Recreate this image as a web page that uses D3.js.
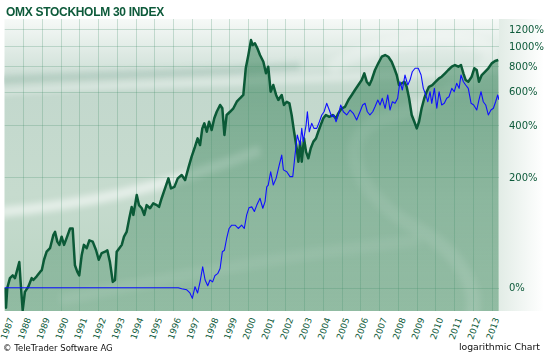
<!DOCTYPE html>
<html>
<head>
<meta charset="utf-8">
<script src="https://cdn.jsdelivr.net/npm/d3@7"></script>
<style>
  body { margin: 0; background: #fff; }
  svg { display: block; }
</style>
</head>
<body>
<div id="chart"></div>
<script>
// OMX Stockholm 30, change since start in percent (log scale of 1 + p/100)
var omxYears = [1987.03, 1987.08, 1987.15, 1987.29, 1987.44, 1987.56, 1987.65, 1987.79, 1987.86, 1987.97,
  1988.09, 1988.27, 1988.45, 1988.54, 1988.72, 1988.90, 1988.99, 1989.11, 1989.25, 1989.43,
  1989.61, 1989.70, 1989.82, 1989.93, 1990.05, 1990.18, 1990.32, 1990.50, 1990.64, 1990.76,
  1990.89, 1990.99, 1991.12, 1991.24, 1991.39, 1991.53, 1991.71, 1991.89, 1992.03, 1992.19,
  1992.37, 1992.49, 1992.63, 1992.78, 1992.90, 1992.99, 1993.13, 1993.26, 1993.38, 1993.52,
  1993.66, 1993.79, 1993.88, 1994.06, 1994.18, 1994.33, 1994.46, 1994.59, 1994.77, 1994.94,
  1995.13, 1995.25, 1995.39, 1995.57, 1995.75, 1995.89, 1996.07, 1996.25, 1996.46, 1996.64,
  1996.81, 1996.99, 1997.17, 1997.31, 1997.44, 1997.56, 1997.67, 1997.80, 1997.92, 1998.06,
  1998.20, 1998.33, 1998.51, 1998.63, 1998.74, 1998.86, 1999.04, 1999.22, 1999.40, 1999.57,
  1999.75, 1999.88, 2000.02, 2000.16, 2000.25, 2000.37, 2000.50, 2000.64, 2000.82, 2000.96,
  2001.08, 2001.21, 2001.35, 2001.50, 2001.62, 2001.80, 2001.92, 2002.07, 2002.21, 2002.33,
  2002.46, 2002.60, 2002.69, 2002.78, 2002.87, 2002.99, 2003.10, 2003.22, 2003.35, 2003.49,
  2003.63, 2003.75, 2003.88, 2004.02, 2004.16, 2004.34, 2004.52, 2004.70, 2004.82, 2005.00,
  2005.18, 2005.36, 2005.54, 2005.71, 2005.89, 2006.07, 2006.21, 2006.34, 2006.48, 2006.60,
  2006.78, 2006.96, 2007.14, 2007.32, 2007.49, 2007.67, 2007.81, 2007.94, 2008.06, 2008.21,
  2008.35, 2008.47, 2008.60, 2008.74, 2008.88, 2009.01, 2009.13, 2009.27, 2009.41, 2009.54,
  2009.66, 2009.84, 2010.02, 2010.20, 2010.34, 2010.52, 2010.69, 2010.88, 2011.05, 2011.23,
  2011.37, 2011.50, 2011.62, 2011.76, 2011.94, 2012.08, 2012.21, 2012.33, 2012.48, 2012.65,
  2012.83, 2013.01, 2013.19, 2013.36];
var omxPct = [0, -18, 0, 10, 13, 10, 17, 29, 6, -20,
  -4, 1, 10, 8, 12, 17, 19, 32, 43, 48,
  69, 74, 58, 53, 66, 53, 64, 80, 80, 25,
  17, 13, 38, 53, 48, 60, 58, 45, 32, 41,
  43, 45, 29, 6, 8, 43, 48, 53, 66, 74,
  99, 123, 106, 151, 127, 120, 106, 127, 120, 131,
  127, 123, 143, 168, 196, 168, 172, 196, 206, 191,
  227, 267, 305, 340, 312, 386, 411, 370, 419, 378,
  437, 473, 513, 493, 355, 455, 473, 493, 533, 555,
  577, 782, 906, 1067, 1011, 1030, 975, 906, 841, 739,
  796, 599, 647, 577, 544, 577, 513, 533, 523, 455,
  370, 299, 249, 326, 249, 340, 285, 261, 299, 326,
  340, 370, 402, 437, 455, 445, 455, 437, 464, 493,
  502, 544, 577, 611, 647, 685, 739, 672, 647, 685,
  767, 829, 889, 906, 889, 841, 782, 725, 647, 660,
  672, 634, 555, 455, 419, 386, 419, 493, 555, 599,
  634, 647, 672, 698, 711, 739, 767, 796, 811, 796,
  811, 739, 685, 672, 711, 782, 767, 672, 725, 752,
  782, 826, 848, 858];

// comparison series, flat until it starts in 1996
var cmpYears = [1987.00, 1996.28, 1996.46, 1996.73, 1996.90, 1997.03, 1997.17, 1997.31, 1997.44, 1997.58,
  1997.71, 1997.85, 1997.97, 1998.11, 1998.24, 1998.38, 1998.51, 1998.63, 1998.74, 1998.86,
  1998.99, 1999.13, 1999.31, 1999.48, 1999.66, 1999.80, 1999.93, 2000.05, 2000.20, 2000.34,
  2000.47, 2000.64, 2000.79, 2000.91, 2001.00, 2001.08, 2001.21, 2001.35, 2001.50, 2001.67,
  2001.80, 2001.89, 2002.07, 2002.24, 2002.39, 2002.51, 2002.63, 2002.78, 2002.87, 2002.95,
  2003.10, 2003.17, 2003.27, 2003.40, 2003.52, 2003.67, 2003.81, 2003.94, 2004.06, 2004.20,
  2004.34, 2004.47, 2004.59, 2004.70, 2004.82, 2004.95, 2005.09, 2005.27, 2005.45, 2005.62,
  2005.80, 2005.98, 2006.12, 2006.25, 2006.37, 2006.51, 2006.66, 2006.78, 2006.93, 2007.05,
  2007.17, 2007.32, 2007.46, 2007.58, 2007.71, 2007.85, 2007.99, 2008.11, 2008.24, 2008.38,
  2008.53, 2008.65, 2008.77, 2008.92, 2009.09, 2009.24, 2009.36, 2009.49, 2009.60, 2009.72,
  2009.81, 2009.95, 2010.08, 2010.20, 2010.34, 2010.48, 2010.61, 2010.73, 2010.88, 2011.01,
  2011.14, 2011.27, 2011.37, 2011.50, 2011.62, 2011.76, 2011.91, 2012.05, 2012.21, 2012.33,
  2012.44, 2012.56, 2012.69, 2012.83, 2012.97, 2013.10, 2013.22, 2013.33, 2013.40];
var cmpPct = [0, 0, -1, -2, -5, -10, 1, -5, 6, 23,
  8, 2, 8, 6, 13, 15, 21, 43, 45, 63,
  80, 86, 86, 80, 86, 80, 106, 121, 123, 113,
  127, 143, 120, 135, 172, 177, 216, 177, 196, 238,
  273, 222, 216, 201, 201, 273, 355, 312, 386, 326,
  402, 473, 370, 411, 386, 386, 419, 455, 473, 523,
  483, 445, 455, 419, 455, 513, 473, 455, 483, 464,
  428, 473, 513, 523, 473, 455, 473, 502, 544, 513,
  555, 493, 577, 483, 533, 523, 555, 672, 611, 725,
  647, 685, 752, 782, 782, 725, 623, 577, 533, 599,
  523, 623, 493, 599, 513, 523, 555, 565, 623, 599,
  660, 623, 725, 672, 647, 623, 523, 513, 483, 544,
  599, 533, 513, 455, 483, 493, 533, 577, 544];

var yearTicks = d3.range(1987, 2014);
var pctTicks = [0, 200, 400, 600, 800, 1000, 1200];

var titleText = "OMX STOCKHOLM 30 INDEX";
var footLeft = "\u00A9 TeleTrader Software AG";
var footRight = "logarithmic Chart";

var W = 544, H = 353;
var plot = { left: 4.5, right: 499, top: 19, bottom: 311 };
var textGreen = "#0d5a3a";

var svg = d3.select("#chart").append("svg")
    .attr("width", W)
    .attr("height", H);

var defs = svg.append("defs");

var bgGrad = defs.append("linearGradient").attr("id", "bgGrad")
    .attr("x1", 0).attr("y1", 0).attr("x2", 0).attr("y2", 1);
bgGrad.append("stop").attr("offset", 0).attr("stop-color", "#f6f9f7");
bgGrad.append("stop").attr("offset", 0.12).attr("stop-color", "#dde9e3");
bgGrad.append("stop").attr("offset", 0.25).attr("stop-color", "#c3d8cd");
bgGrad.append("stop").attr("offset", 0.6).attr("stop-color", "#c6dbce");
bgGrad.append("stop").attr("offset", 1).attr("stop-color", "#b8d4c2");

var areaGrad = defs.append("linearGradient").attr("id", "areaGrad")
    .attr("gradientUnits", "userSpaceOnUse")
    .attr("x1", 0).attr("y1", plot.top).attr("x2", 0).attr("y2", plot.bottom);
areaGrad.append("stop").attr("offset", 0).attr("stop-color", "#2f7d52").attr("stop-opacity", 0.55);
areaGrad.append("stop").attr("offset", 1).attr("stop-color", "#2f7d52").attr("stop-opacity", 0.28);

var sideGrad = defs.append("linearGradient").attr("id", "sideGrad")
    .attr("x1", 0).attr("y1", 0).attr("x2", 1).attr("y2", 0);
sideGrad.append("stop").attr("offset", 0).attr("stop-color", "#e2ece6");
sideGrad.append("stop").attr("offset", 1).attr("stop-color", "#ffffff");

defs.append("filter").attr("id", "soft")
    .append("feGaussianBlur").attr("stdDeviation", 3);

defs.append("clipPath").attr("id", "plotClip")
    .append("rect")
    .attr("x", plot.left).attr("y", plot.top)
    .attr("width", plot.right - plot.left).attr("height", plot.bottom - plot.top);

// scales
var x = d3.scaleLinear().domain([1987, 2013.4]).range([plot.left, plot.right]);
var y = d3.scaleLog().domain([0.794, 14.38]).range([plot.bottom, plot.top]);
function yp(p) { return y(1 + p / 100); }

// right side panel
svg.append("rect")
    .attr("x", plot.right).attr("y", plot.top)
    .attr("width", W - plot.right).attr("height", plot.bottom - plot.top)
    .attr("fill", "url(#sideGrad)");

// plot background
svg.append("rect")
    .attr("x", plot.left).attr("y", plot.top)
    .attr("width", plot.right - plot.left).attr("height", plot.bottom - plot.top)
    .attr("fill", "url(#bgGrad)");

var g = svg.append("g").attr("clip-path", "url(#plotClip)");

// watermark swooshes
var deco = g.append("g").attr("filter", "url(#soft)").attr("fill", "none");
deco.append("path")
    .attr("d", "M0,80 C100,74 200,74 300,66")
    .attr("stroke", "#7fa898").attr("stroke-width", 7).attr("opacity", 0.35);
deco.append("path")
    .attr("d", "M0,92 C120,84 300,82 500,70")
    .attr("stroke", "#ffffff").attr("stroke-width", 4).attr("opacity", 0.55);
deco.append("path")
    .attr("d", "M0,212 C80,205 160,190 260,150")
    .attr("stroke", "#ffffff").attr("stroke-width", 10).attr("opacity", 0.55);
deco.append("path")
    .attr("d", "M330,70 C360,40 470,30 490,50 C500,70 420,110 380,120 C330,140 360,200 420,230 C470,260 480,300 470,320")
    .attr("stroke", "#ffffff").attr("stroke-width", 14).attr("opacity", 0.25);
deco.append("path")
    .attr("d", "M60,300 C200,270 330,250 420,240")
    .attr("stroke", "#ffffff").attr("stroke-width", 12).attr("opacity", 0.18);

var omx = omxYears.map(function (d, i) { return { year: d, pct: omxPct[i] }; });
var cmp = cmpYears.map(function (d, i) { return { year: d, pct: cmpPct[i] }; });

// area under the index line
var area = d3.area()
    .x(function (d) { return x(d.year); })
    .y0(plot.bottom)
    .y1(function (d) { return yp(d.pct); });

g.append("path")
    .datum(omx)
    .attr("d", area)
    .attr("fill", "url(#areaGrad)");

// grid
g.selectAll(".vgrid")
    .data(yearTicks.slice(1))
    .enter().append("line")
    .attr("class", "vgrid")
    .attr("x1", function (d) { return Math.round(x(d)) + 0.5; })
    .attr("x2", function (d) { return Math.round(x(d)) + 0.5; })
    .attr("y1", plot.top).attr("y2", plot.bottom)
    .attr("stroke", "#3f8a66").attr("stroke-opacity", 0.25);

g.selectAll(".hgrid")
    .data(pctTicks)
    .enter().append("line")
    .attr("class", "hgrid")
    .attr("x1", plot.left).attr("x2", plot.right)
    .attr("y1", function (d) { return Math.round(yp(d)) + 0.5; })
    .attr("y2", function (d) { return Math.round(yp(d)) + 0.5; })
    .attr("stroke", "#3f8a66").attr("stroke-opacity", 0.25);

var line = d3.line()
    .x(function (d) { return x(d.year); })
    .y(function (d) { return yp(d.pct); });

g.append("path")
    .datum(omx)
    .attr("d", line)
    .attr("fill", "none")
    .attr("stroke", "#0b5a37")
    .attr("stroke-width", 2.5)
    .attr("stroke-linejoin", "round");

g.append("path")
    .datum(cmp)
    .attr("d", line)
    .attr("fill", "none")
    .attr("stroke", "#1010ff")
    .attr("stroke-width", 1.1)
    .attr("stroke-linejoin", "round");

// right axis labels
svg.selectAll(".ylab")
    .data(pctTicks)
    .enter().append("text")
    .attr("class", "ylab")
    .attr("x", 509)
    .attr("y", function (d) { return yp(d); })
    .attr("dy", "0.36em")
    .style("font-family", "'DejaVu Sans', sans-serif")
    .style("font-size", "10px")
    .attr("fill", textGreen)
    .text(function (d) { return d + "%"; });

// year labels, rotated
svg.selectAll(".xlab")
    .data(yearTicks)
    .enter().append("text")
    .attr("class", "xlab")
    .attr("transform", function (d) {
        return "translate(" + Math.max(x(d) + 8, 14) + ",319) rotate(-70)";
    })
    .attr("text-anchor", "end")
    .style("font-family", "'DejaVu Sans', sans-serif")
    .style("font-size", "8.8px")
    .attr("fill", textGreen)
    .text(function (d) { return d; });

// title and footer
svg.append("text")
    .attr("x", 6).attr("y", 16)
    .style("font-family", "'Liberation Sans', Arial, sans-serif")
    .style("font-size", "12px")
    .style("font-weight", "bold")
    .style("letter-spacing", "-0.3px")
    .attr("fill", textGreen)
    .text(titleText);

svg.append("text")
    .attr("x", 3).attr("y", 350.5)
    .style("font-family", "'DejaVu Sans', sans-serif")
    .style("font-size", "8.5px")
    .attr("fill", "#111")
    .text(footLeft);

svg.append("text")
    .attr("x", 540).attr("y", 350)
    .attr("text-anchor", "end")
    .style("font-family", "'DejaVu Sans', sans-serif")
    .style("font-size", "9.3px")
    .attr("fill", "#111")
    .text(footRight);
</script>
</body>
</html>
